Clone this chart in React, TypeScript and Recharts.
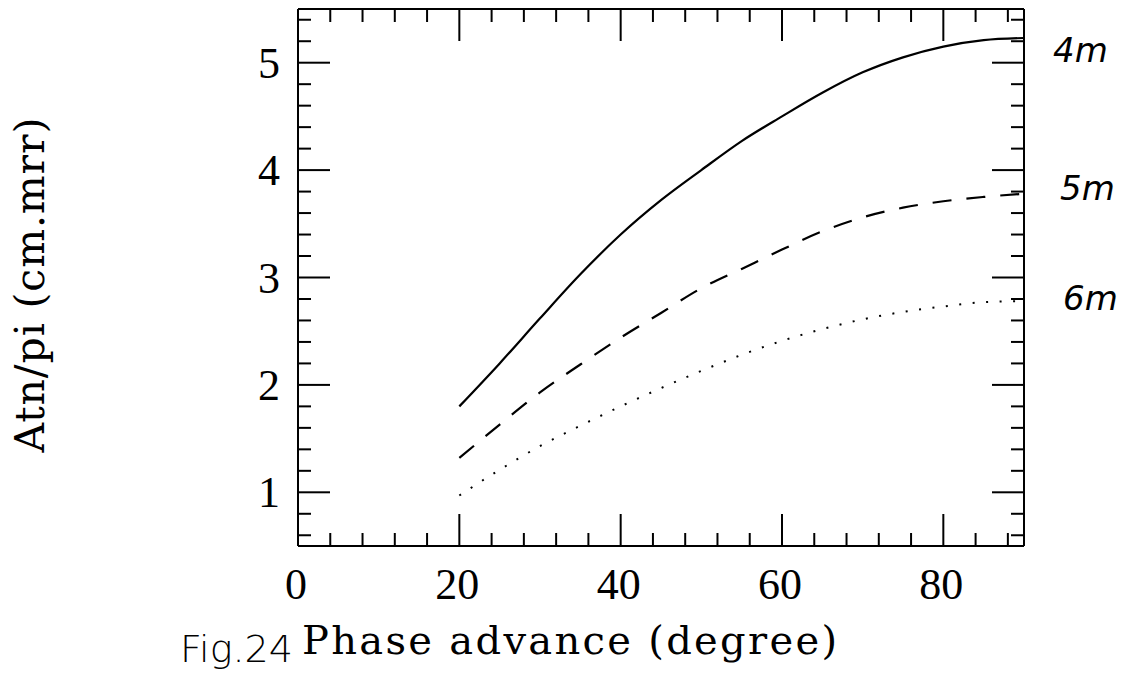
import { LineChart, Line, XAxis, YAxis } from 'recharts';

// phase advance (degree) and Atn/pi (cm.mrr)
const phase = [20, 25, 30, 35, 40, 45, 50, 55, 60, 65, 70, 75, 80, 85, 90];
const atn4m = [1.8, 2.2, 2.62, 3.03, 3.4, 3.72, 4.0, 4.27, 4.5, 4.72, 4.91, 5.05, 5.15, 5.21, 5.23];
const atn5m = [1.32, 1.63, 1.93, 2.19, 2.44, 2.67, 2.9, 3.08, 3.26, 3.43, 3.56, 3.65, 3.71, 3.75, 3.78];
const atn6m = [0.97, 1.21, 1.43, 1.62, 1.8, 1.97, 2.13, 2.28, 2.41, 2.52, 2.61, 2.68, 2.73, 2.77, 2.78];

const xMajorTicks = [0, 20, 40, 60, 80];
const xMinorTicks = [4, 8, 12, 16, 24, 28, 32, 36, 44, 48, 52, 56, 64, 68, 72, 76, 84, 88];
const yMajorTicks = [1, 2, 3, 4, 5];
const yMinorTicks = [
  0.6, 0.8, 1.2, 1.4, 1.6, 1.8, 2.2, 2.4, 2.6, 2.8, 3.2, 3.4, 3.6, 3.8, 4.2, 4.4, 4.6, 4.8, 5.2, 5.4,
];

const data = phase.map((p, i) => ({ phase: p, m4: atn4m[i], m5: atn5m[i], m6: atn6m[i] }));

const DIGITS = '"Liberation Serif", "Times New Roman", serif';
const TITLE = '"DejaVu Serif", serif';
const HAND = '"DejaVu Sans", sans-serif';
const X_DOMAIN: [number, number] = [0, 90];
const Y_DOMAIN: [number, number] = [0.5, 5.5];
const line = { stroke: '#000', strokeWidth: 2 };

function NoLabel() {
  return <g />;
}

function XTick({ x, y, payload }: any) {
  return (
    <text x={x - 2} y={y + 45} textAnchor="middle" fontFamily={DIGITS} fontSize={44} fill="#000">
      {payload.value}
    </text>
  );
}

function YTick({ x, y, payload }: any) {
  return (
    <text x={x - 10} y={y + 15} textAnchor="end" fontFamily={DIGITS} fontSize={44} fill="#000">
      {payload.value}
    </text>
  );
}

// shared props for the extra axes that only draw inward tick marks
const xInner = { dataKey: 'phase', type: 'number' as const, domain: X_DOMAIN, allowDataOverflow: true, interval: 0 as const, height: 1, mirror: true, tickLine: line, tick: NoLabel };
const yInner = { dataKey: 'm4', type: 'number' as const, domain: Y_DOMAIN, allowDataOverflow: true, interval: 0 as const, width: 1, mirror: true, tickLine: line, tick: NoLabel };

export default function App() {
  return (
    <div style={{ position: 'absolute', left: 0, top: 0, width: 1135, height: 675, background: '#fff' }}>
      <LineChart width={1135} height={675} data={data} margin={{ top: 9, right: 111, bottom: 128, left: 297 }}>
        <XAxis
          xAxisId="x"
          dataKey="phase"
          type="number"
          domain={X_DOMAIN}
          allowDataOverflow
          ticks={xMajorTicks}
          interval={0}
          height={1}
          axisLine={line}
          tickLine={false}
          tick={XTick}
        />
        <XAxis xAxisId="bMaj" {...xInner} ticks={xMajorTicks} tickSize={32} axisLine={false} />
        <XAxis xAxisId="bMin" {...xInner} ticks={xMinorTicks} tickSize={12} axisLine={false} />
        <XAxis xAxisId="tMaj" orientation="top" {...xInner} ticks={xMajorTicks} tickSize={32} axisLine={line} />
        <XAxis xAxisId="tMin" orientation="top" {...xInner} ticks={xMinorTicks} tickSize={12} axisLine={false} />
        <YAxis
          yAxisId="y"
          type="number"
          domain={Y_DOMAIN}
          allowDataOverflow
          ticks={yMajorTicks}
          interval={0}
          width={1}
          axisLine={line}
          tickLine={false}
          tick={YTick}
        />
        <YAxis yAxisId="lMaj" {...yInner} ticks={yMajorTicks} tickSize={32} axisLine={false} />
        <YAxis yAxisId="lMin" {...yInner} ticks={yMinorTicks} tickSize={12} axisLine={false} />
        <YAxis yAxisId="rMaj" orientation="right" {...yInner} ticks={yMajorTicks} tickSize={32} axisLine={line} />
        <YAxis yAxisId="rMin" orientation="right" {...yInner} ticks={yMinorTicks} tickSize={12} axisLine={false} />
        <Line xAxisId="x" yAxisId="y" type="monotone" dataKey="m4" stroke="#000" strokeWidth={2.2} dot={false} isAnimationActive={false} />
        <Line xAxisId="x" yAxisId="y" type="monotone" dataKey="m5" stroke="#000" strokeWidth={2.2} strokeDasharray="19 15" dot={false} isAnimationActive={false} />
        <Line xAxisId="x" yAxisId="y" type="monotone" dataKey="m6" stroke="#000" strokeWidth={2} strokeDasharray="2 11.5" dot={false} isAnimationActive={false} />
      </LineChart>
      <svg width={1135} height={675} style={{ position: 'absolute', left: 0, top: 0, pointerEvents: 'none' }}>
        <text x={302} y={654} fontFamily={TITLE} fontSize={40} textLength={535} lengthAdjust="spacing" fill="#000">
          Phase advance (degree)
        </text>
        <text transform="translate(44,285) rotate(-90)" textAnchor="middle" fontFamily={TITLE} fontSize={41} textLength={335} lengthAdjust="spacing" fill="#000">
          Atn/pi (cm.mrr)
        </text>
        <text x={180} y={662} fontFamily={HAND} fontWeight={200} fontSize={38} fill="#000">
          Fig.24
        </text>
        <text x={1053} y={62} fontFamily={HAND} fontWeight={200} fontStyle="italic" fontSize={34} fill="#000">
          4m
        </text>
        <text x={1060} y={200} fontFamily={HAND} fontWeight={200} fontStyle="italic" fontSize={34} fill="#000">
          5m
        </text>
        <text x={1063} y={310} fontFamily={HAND} fontWeight={200} fontStyle="italic" fontSize={34} fill="#000">
          6m
        </text>
      </svg>
    </div>
  );
}
